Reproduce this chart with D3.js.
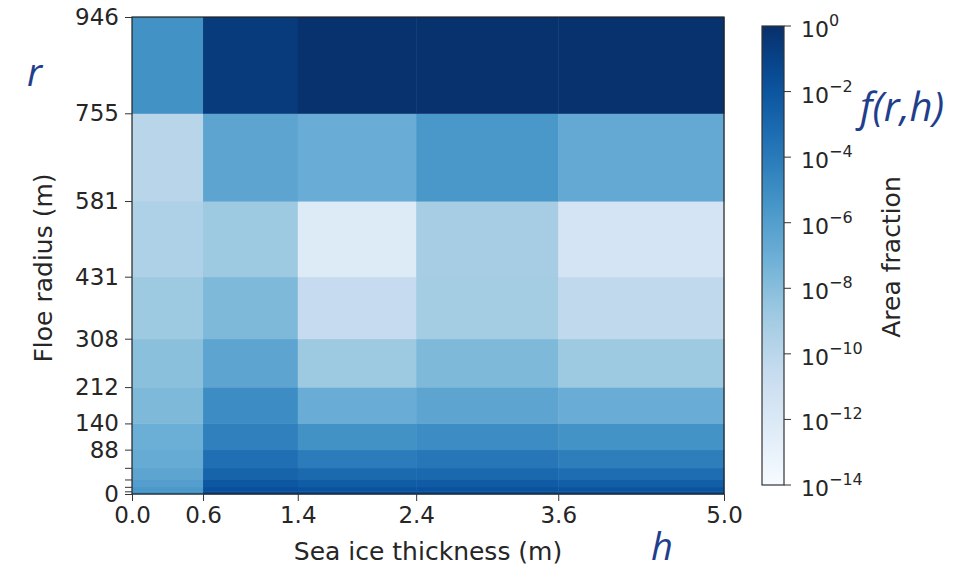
<!DOCTYPE html>
<html>
<head>
<meta charset="utf-8">
<script src="https://cdn.jsdelivr.net/npm/d3@7"></script>
<style>
  body { margin: 0; background: #fff; }
  text { font-family: "DejaVu Sans", sans-serif; fill: #262626; }
  .note { font-family: "Open Sans", "Liberation Sans", sans-serif; font-style: italic; fill: #1f3f8c; }
</style>
</head>
<body>
<div id="chart"></div>
<script>
// Bin edges: sea ice thickness (m) and floe radius (m)
var thicknessEdges = [0, 0.6, 1.4, 2.4, 3.6, 5.0]
var thicknessLabels = ['0.0', '0.6', '1.4', '2.4', '3.6', '5.0']
var radiusEdges = [0, 5.3, 14.2, 28.8, 51.9, 88, 140, 212, 308, 431, 581, 755, 946]
var radiusLabels = ['0', '', '', '', '', '88', '140', '212', '308', '431', '581', '755', '946']

// log10 of area fraction, one row per radius bin (bottom to top), one column per thickness bin
var log10Area = [
  [-5.2, -1.1, -1.2, -1.2, -1.3],
  [-5.6, -1.7, -1.8, -1.8, -1.9],
  [-6.0, -2.1, -2.4, -2.3, -2.5],
  [-6.4, -2.8, -3.1, -3.0, -3.3],
  [-6.8, -3.4, -4.1, -3.8, -4.2],
  [-7.0, -4.3, -5.25, -5.0, -5.3],
  [-7.7, -5.0, -6.9, -6.4, -6.9],
  [-8.1, -6.4, -8.7, -7.7, -8.7],
  [-8.75, -7.7, -10.5, -9.0, -10.3],
  [-9.5, -8.7, -12.2, -9.1, -11.5],
  [-9.9, -6.4, -6.9, -5.6, -6.7],
  [-5.25, -0.6, -0.1, -0.1, -0.1]
]
var colorbarExps = [0, -2, -4, -6, -8, -10, -12, -14]

const width = 971
const height = 571

var svg = d3.select('#chart').append('svg')
  .attr('width', width)
  .attr('height', height)

// matplotlib "Blues" colormap (linear through the ColorBrewer stops)
var blues = ['#f7fbff', '#deebf7', '#c6dbef', '#9ecae1', '#6baed6', '#4292c6', '#2171b5', '#08519c', '#08306b']
var cmap = d3.scaleLinear()
  .domain(d3.range(9).map(i => i / 8))
  .range(blues)
  .interpolate(d3.interpolateRgb)
  .clamp(true)

var norm = d3.scaleLog().domain([1e-14, 1]).range([0, 1]).clamp(true)
var color = v => cmap(norm(v))

var x = d3.scaleLinear().domain([0, 5]).range([132, 724])
var y = d3.scaleLinear().domain([0, 946]).range([494, 17])

// cells
var cells = []
log10Area.forEach(function (row, i) {
  row.forEach(function (v, j) {
    cells.push({ r0: radiusEdges[i], r1: radiusEdges[i + 1], h0: thicknessEdges[j], h1: thicknessEdges[j + 1], v: Math.pow(10, v) })
  })
})

svg.append('g').selectAll('rect')
  .data(cells)
  .enter().append('rect')
  .attr('x', d => x(d.h0))
  .attr('y', d => y(d.r1))
  .attr('width', d => x(d.h1) - x(d.h0) + 0.5)
  .attr('height', d => y(d.r0) - y(d.r1) + 0.5)
  .attr('fill', d => color(d.v))

// axes frame
svg.append('rect')
  .attr('x', x(0)).attr('y', y(946))
  .attr('width', x(5) - x(0)).attr('height', y(0) - y(946))
  .attr('fill', 'none').attr('stroke', '#222').attr('stroke-width', 1.2)

var xAxis = svg.append('g')
  .attr('transform', 'translate(0,' + y(0) + ')')
  .call(d3.axisBottom(x).tickValues(thicknessEdges).tickFormat((d, i) => thicknessLabels[i]).tickSize(7).tickPadding(6))
xAxis.select('.domain').remove()
xAxis.selectAll('text').style('font-size', '23px').attr('fill', '#262626')
xAxis.selectAll('line').attr('stroke', '#333')

var yAxis = svg.append('g')
  .attr('transform', 'translate(' + x(0) + ',0)')
  .call(d3.axisLeft(y).tickValues(radiusEdges).tickFormat((d, i) => radiusLabels[i]).tickSize(7).tickPadding(6))
yAxis.select('.domain').remove()
yAxis.selectAll('text').style('font-size', '23px').attr('fill', '#262626')
yAxis.selectAll('line').attr('stroke', '#333')

// axis labels
svg.append('text')
  .attr('x', 428).attr('y', 560)
  .attr('text-anchor', 'middle')
  .style('font-size', '25px')
  .text('Sea ice thickness (m)')

svg.append('text')
  .attr('transform', 'translate(52,268) rotate(-90)')
  .attr('text-anchor', 'middle')
  .style('font-size', '25px')
  .text('Floe radius (m)')

// colorbar
var cbX = 762, cbW = 22
var cy = d3.scaleLog().domain([1e-14, 1]).range([485, 26])
var defs = svg.append('defs')
var grad = defs.append('linearGradient')
  .attr('id', 'cbgrad')
  .attr('x1', 0).attr('y1', 1).attr('x2', 0).attr('y2', 0)
grad.selectAll('stop')
  .data(d3.range(0, 1.0001, 0.05))
  .enter().append('stop')
  .attr('offset', d => d)
  .attr('stop-color', d => cmap(d))

svg.append('rect')
  .attr('x', cbX).attr('y', cy(1))
  .attr('width', cbW).attr('height', cy(1e-14) - cy(1))
  .attr('fill', 'url(#cbgrad)')
  .attr('stroke', '#333').attr('stroke-width', 1.2)

var cbTicks = svg.append('g')
cbTicks.selectAll('line')
  .data(colorbarExps)
  .enter().append('line')
  .attr('x1', cbX + cbW).attr('x2', cbX + cbW + 7)
  .attr('y1', d => cy(Math.pow(10, d))).attr('y2', d => cy(Math.pow(10, d)))
  .attr('stroke', '#333')

var cbLabels = cbTicks.selectAll('text')
  .data(colorbarExps)
  .enter().append('text')
  .attr('x', cbX + cbW + 17)
  .attr('y', d => cy(Math.pow(10, d)) + 11)
  .style('font-size', '22px')
cbLabels.append('tspan').text('10')
cbLabels.append('tspan')
  .attr('dy', -11)
  .style('font-size', '16px')
  .text(d => d === 0 ? '0' : '\u2212' + Math.abs(d))

svg.append('text')
  .attr('transform', 'translate(900,257) rotate(-90)')
  .attr('text-anchor', 'middle')
  .style('font-size', '25px')
  .text('Area fraction')

// annotations
svg.append('text').attr('class', 'note')
  .attr('x', 27).attr('y', 86)
  .style('font-size', '38px')
  .text('r')
svg.append('text').attr('class', 'note')
  .attr('x', 860).attr('y', 121)
  .style('font-size', '40px')
  .text('f(r,h)')
svg.append('text').attr('class', 'note')
  .attr('x', 651).attr('y', 560)
  .style('font-size', '38px')
  .text('h')
</script>
</body>
</html>
